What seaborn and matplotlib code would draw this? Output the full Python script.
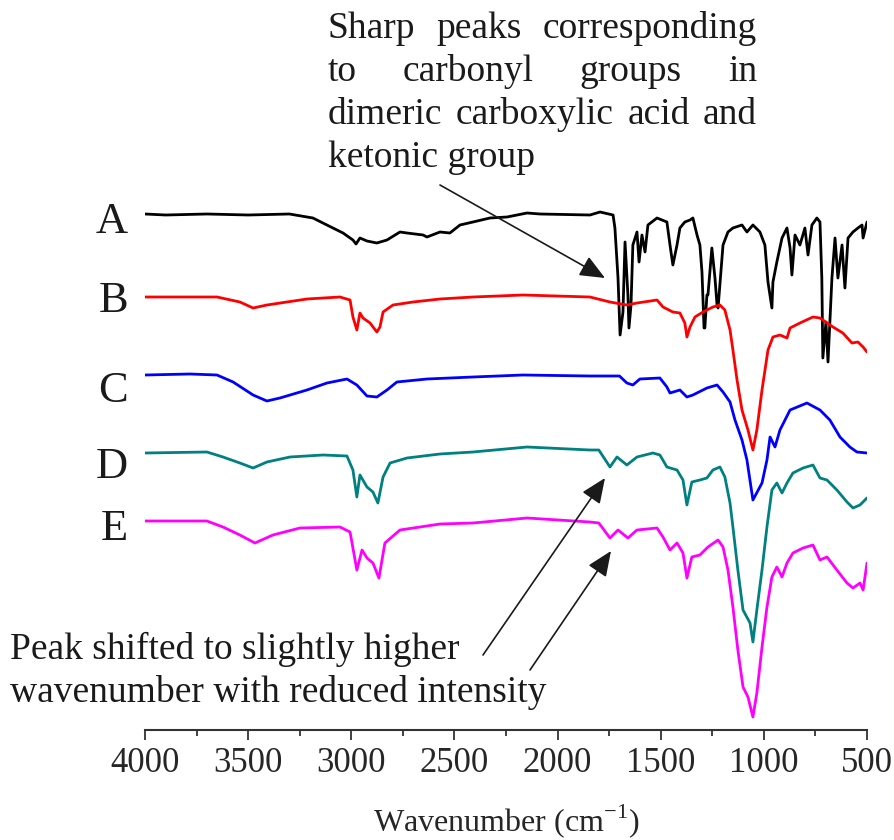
import numpy as np
import pandas as pd
import seaborn as sns
import matplotlib.pyplot as plt

# spectra: wavenumber (cm-1) and relative transmittance (a.u.)
wn_a = [4000, 3900, 3700, 3500, 3300, 3186, 3089, 3040, 2992, 2977, 2958, 2924, 2876, 2827, 2764, 2730,
        2652, 2633, 2570, 2522, 2473, 2410, 2328, 2245, 2148, 2085, 1843, 1794, 1731, 1722, 1707, 1697,
        1683, 1673, 1659, 1654, 1644, 1635, 1615, 1605, 1591, 1576, 1562, 1518, 1470, 1455, 1441, 1421,
        1407, 1383, 1358, 1344, 1324, 1310, 1300, 1290, 1286, 1276, 1271, 1252, 1237, 1227, 1222, 1198,
        1174, 1150, 1106, 1082, 1053, 1019, 995, 980, 961, 956, 937, 912, 888, 873, 864, 849, 825, 801,
        786, 767, 743, 728, 719, 714, 699, 689, 670, 655, 641, 621, 607, 592, 568, 544, 524, 519, 500]
t_a = [0, -1, 0, -1, 0, -4, -14, -19, -26, -30, -24, -27, -29, -26, -18, -19,
       -21, -23, -18, -19, -11, -8, -4, -3, 1, 0, -1, 2, -1, -14, -64, -121,
       -98, -28, -81, -114, -91, -31, -18, -48, -21, -38, -11, -4, -8, -31, -51, -31,
       -14, -8, -6, -4, -21, -31, -58, -114, -114, -81, -81, -34, -64, -91, -94, -31,
       -18, -14, -11, -18, -11, -18, -31, -68, -94, -68, -48, -24, -14, -34, -61, -21, -31, -14,
       -41, -11, -4, -8, -64, -144, -108, -148, -64, -24, -64, -31, -74, -24, -18, -14, -11, -24, -8]

wn_b = [4000, 3651, 3540, 3476, 3409, 3312, 3215, 3055, 3006, 2992, 2973, 2958, 2943, 2909, 2876, 2861,
        2846, 2798, 2701, 2570, 2410, 2168, 1843, 1746, 1664, 1615, 1518, 1489, 1441, 1407, 1383, 1373,
        1358, 1334, 1295, 1247, 1213, 1189, 1164, 1150, 1130, 1106, 1077, 1053, 1034, 1009, 980, 956,
        922, 888, 873, 825, 762, 728, 665, 617, 573, 544, 519, 500]
t_b = [0, 0, -5, -11, -8, -5, -2, 0, -3, -20, -33, -16, -21, -26, -35, -30,
       -15, -8, -5, -2, 0, 2, 0, -5, -8, -6, -3, -10, -15, -16, -26, -40,
       -30, -20, -15, -10, -8, -13, -33, -53, -83, -113, -133, -153, -133, -93, -53, -40,
       -38, -41, -31, -26, -20, -21, -30, -36, -46, -45, -50, -55]

wn_c = [4000, 3782, 3651, 3573, 3476, 3409, 3346, 3215, 3118, 3021, 2973, 2924, 2876, 2827, 2779, 2633,
        2410, 2168, 1843, 1700, 1664, 1635, 1601, 1504, 1470, 1455, 1407, 1373, 1344, 1276, 1227, 1198,
        1164, 1140, 1106, 1082, 1053, 1009, 985, 970, 946, 922, 873, 791, 728, 680, 631, 583, 549, 500]
t_c = [0, 1, 0, -7, -20, -26, -23, -15, -8, -4, -10, -21, -22, -15, -7, -4,
       -2, 0, -1, -1, -8, -10, -4, -3, -12, -18, -15, -22, -20, -13, -10, -17,
       -27, -45, -65, -85, -125, -108, -85, -62, -72, -55, -35, -28, -35, -45, -62, -72, -77, -78]

wn_d = [4000, 3700, 3622, 3540, 3476, 3409, 3297, 3137, 3021, 2992, 2973, 2958, 2924, 2895, 2871, 2846,
        2812, 2730, 2570, 2410, 2148, 1843, 1800, 1746, 1712, 1664, 1615, 1538, 1504, 1470, 1421, 1392,
        1373, 1349, 1310, 1276, 1247, 1213, 1189, 1164, 1150, 1126, 1101, 1067, 1053, 1034, 1009, 985,
        961, 937, 912, 888, 859, 810, 762, 728, 694, 646, 597, 568, 534, 500]
t_d = [0, 1, -4, -10, -15, -9, -4, -2, -3, -17, -44, -22, -34, -39, -50, -24,
       -10, -5, -1, 1, 6, 3, 3, -14, -4, -12, -4, 0, -2, -14, -17, -27,
       -52, -29, -27, -25, -17, -14, -24, -50, -74, -117, -157, -170, -189, -157, -117, -74,
       -37, -30, -40, -30, -20, -15, -12, -25, -27, -37, -49, -55, -52, -45]

wn_e = [4000, 3700, 3622, 3540, 3467, 3380, 3249, 3055, 3006, 2973, 2948, 2924, 2895, 2866, 2837, 2764,
        2570, 2410, 2148, 1843, 1800, 1746, 1707, 1659, 1615, 1518, 1489, 1455, 1421, 1392, 1373, 1349,
        1310, 1271, 1222, 1198, 1174, 1150, 1126, 1101, 1077, 1053, 1034, 1009, 985, 961, 937, 912,
        888, 859, 810, 762, 728, 694, 646, 597, 568, 534, 519, 500]
t_e = [0, 0, -6, -14, -22, -14, -7, -6, -11, -49, -29, -37, -42, -57, -22, -9,
       -3, -2, 3, -1, -2, -17, -9, -17, -9, -7, -16, -29, -22, -32, -57, -36,
       -34, -26, -19, -26, -49, -86, -129, -166, -176, -196, -172, -126, -86, -56, -46, -56,
       -42, -32, -27, -24, -39, -36, -49, -62, -67, -62, -69, -42]

samples = ['A', 'B', 'C', 'D', 'E']
offsets = [516, 433, 355, 277, 209]
colors = ['#000000', '#FF0000', '#0000FF', '#008080', '#FF00FF']

frames = []
for name, wn, t, off in zip(samples, [wn_a, wn_b, wn_c, wn_d, wn_e],
                            [t_a, t_b, t_c, t_d, t_e], offsets):
    frames.append(pd.DataFrame({'wavenumber': wn, 'signal': np.array(t) + off, 'sample': name}))
df = pd.concat(frames, ignore_index=True)

sns.set_theme(style='white')
plt.rcParams['font.family'] = ['Liberation Serif', 'DejaVu Serif']
plt.rcParams['mathtext.fontset'] = 'custom'
plt.rcParams['mathtext.rm'] = 'Liberation Serif'

W, H = 895, 840
fig = plt.figure(figsize=(W / 100, H / 100), dpi=100)
ax = fig.add_axes([145 / W, 1 - 730 / H, 722 / W, 530 / H])

sns.lineplot(data=df, x='wavenumber', y='signal', hue='sample', palette=colors,
             sort=False, estimator=None, legend=False, lw=2.0, ax=ax)

ax.set_xlim(4000, 500)
ax.set_ylim(0, 530)
ax.set_xticks(np.arange(4000, 499, -500))
ax.set_xticks(np.arange(3750, 500, -500), minor=True)
ax.set_yticks([])
ax.set_ylabel('')
ax.set_xlabel('')
for s in ['top', 'right', 'left']:
    ax.spines[s].set_visible(False)
ax.spines['bottom'].set_color('#333333')
ax.spines['bottom'].set_linewidth(1.5)
ax.tick_params(axis='x', which='major', direction='out', length=7.5, width=1.3,
               color='#333333', labelsize=25, labelcolor='#262626', pad=5, bottom=True)
ax.tick_params(axis='x', which='minor', direction='out', length=4, width=1.3,
               color='#333333', bottom=True)

def fx(px):
    return px / W

def fy(py):
    return 1 - py / H

fig.text(fx(506), fy(831), 'Wavenumber (cm$^{-1}$)', fontsize=23, ha='center',
         va='baseline', color='#262626')

# sample labels
for name, yb in zip(samples, [233, 312, 402, 478, 540]):
    fig.text(fx(128), fy(yb), name, fontsize=32, ha='right', va='baseline', color='#1a1a1a')

tk = dict(fontsize=27, va='baseline', color='#1a1a1a')
renderer = fig.canvas.get_renderer()

def justify(line, x0, x1, yb):
    words = line.split()
    texts = [fig.text(fx(x0), fy(yb), w, ha='left', **tk) for w in words]
    widths = [t.get_window_extent(renderer).width for t in texts]
    gap = (x1 - x0 - sum(widths)) / (len(words) - 1)
    x = x0
    for t, w in zip(texts, widths):
        t.set_x(fx(x))
        x += w + gap

justify('Sharp peaks corresponding', 328, 757, 38)
justify('to carbonyl groups in', 328, 757, 81)
justify('dimeric carboxylic acid and', 328, 757, 124)
fig.text(fx(328), fy(167), 'ketonic group', ha='left', **tk)

fig.text(fx(10), fy(659), 'Peak shifted to slightly higher', ha='left', **tk)
fig.text(fx(10), fy(702), 'wavenumber with reduced intensity', ha='left', **tk)

arrow = dict(arrowstyle='-|>,head_length=0.7,head_width=0.3', color='#1a1a1a', lw=1.2,
             mutation_scale=22, shrinkA=0, shrinkB=0)
for tail, tip in [((440, 185), (605, 278)), ((483, 655), (605, 478)), ((530, 670), (611, 551))]:
    ax.annotate('', xy=(fx(tip[0]), fy(tip[1])), xytext=(fx(tail[0]), fy(tail[1])),
                xycoords='figure fraction', textcoords='figure fraction', arrowprops=arrow)

fig.savefig('out.png', dpi=100)
